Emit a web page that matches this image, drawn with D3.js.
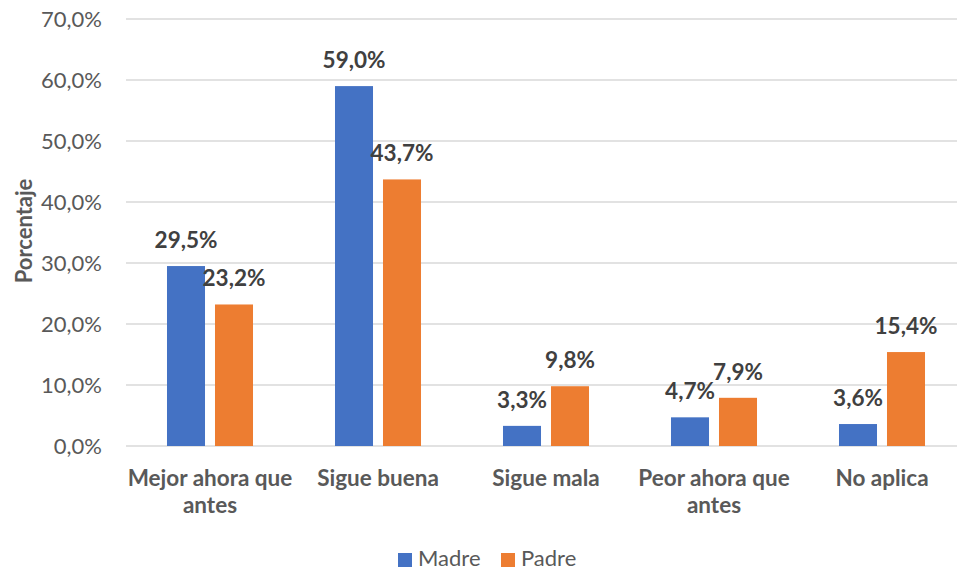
<!DOCTYPE html>
<html>
<head>
<meta charset="utf-8">
<script src="https://cdn.jsdelivr.net/npm/d3@7"></script>
<style>
  body { margin: 0; background: #fff; overflow: hidden; }
  text { font-family: Lato, "Open Sans", sans-serif; }
</style>
</head>
<body>
<div id="chart-container"></div>
<script>
const categories = [
  ["Mejor ahora que", "antes"],
  ["Sigue buena"],
  ["Sigue mala"],
  ["Peor ahora que", "antes"],
  ["No aplica"]
];
const seriesNames = ["Madre", "Padre"];
const madreValues = [29.5, 59.0, 3.3, 4.7, 3.6];
const padreValues = [23.2, 43.7, 9.8, 7.9, 15.4];
const yTicks = [0, 10, 20, 30, 40, 50, 60, 70];

const colors = ["#4472C4", "#ED7D31"];
const fmt = v => v.toFixed(1).replace(".", ",") + "%";

const W = 957, H = 571;
// the plot area runs a little past the right edge, as in the reference crop
const margin = { top: 19, right: -9, bottom: 125, left: 126 };
const width = W - margin.left - margin.right;
const height = H - margin.top - margin.bottom;

const data = categories.map((c, i) => ({
  key: i, label: c,
  values: [madreValues[i], padreValues[i]]
}));

const svg = d3.select("#chart-container")
  .append("svg")
    .attr("width", W)
    .attr("height", H)
    .style("overflow", "hidden");

const g = svg.append("g")
  .attr("transform", `translate(${margin.left},${margin.top})`);

const x0 = d3.scaleBand()
  .domain(data.map(d => d.key))
  .range([0, width])
  .paddingInner(0.488)
  .paddingOuter(0.244);

const x1 = d3.scaleBand()
  .domain([0, 1])
  .range([0, x0.bandwidth()])
  .paddingInner(0.208);

const y = d3.scaleLinear()
  .domain([0, 70])
  .range([height, 0]);

// gridlines
g.selectAll(".grid")
  .data(yTicks)
  .join("line")
  .attr("x1", 0)
  .attr("x2", width)
  .attr("y1", d => y(d))
  .attr("y2", d => y(d))
  .attr("stroke", "#D9D9D9")
  .attr("stroke-width", 1.3);

// y axis labels
g.append("g")
  .call(d3.axisLeft(y).tickValues(yTicks).tickSize(0).tickPadding(24).tickFormat(fmt))
  .call(ax => ax.select(".domain").remove())
  .selectAll(".tick text")
  .style("font-family", "Lato, 'Open Sans', sans-serif")
  .style("font-size", "22px")
  .attr("fill", "#595959");

// bars
const groups = g.selectAll(".cat")
  .data(data)
  .join("g")
  .attr("transform", d => `translate(${x0(d.key)},0)`);

groups.selectAll("rect")
  .data(d => d.values.map((v, i) => ({ i, v })))
  .join("rect")
  .attr("x", d => x1(d.i))
  .attr("width", x1.bandwidth())
  .attr("y", d => y(d.v))
  .attr("height", d => y(0) - y(d.v))
  .attr("fill", d => colors[d.i]);

groups.selectAll(".val")
  .data(d => d.values.map((v, i) => ({ i, v })))
  .join("text")
  .attr("x", d => x1(d.i) + x1.bandwidth() / 2)
  .attr("y", d => y(d.v) - 18)
  .attr("text-anchor", "middle")
  .style("font-size", "22.5px")
  .style("font-weight", "bold")
  .attr("fill", "#404040")
  .text(d => fmt(d.v));

// category labels
const catLabels = g.selectAll(".catlabel")
  .data(data)
  .join("text")
  .attr("text-anchor", "middle")
  .attr("x", d => x0(d.key) + x0.bandwidth() / 2)
  .attr("y", height + 40)
  .style("font-size", "22.5px")
  .style("font-weight", "bold")
  .attr("fill", "#595959");

catLabels.selectAll("tspan")
  .data(d => d.label)
  .join("tspan")
  .attr("x", function () { return d3.select(this.parentNode).attr("x"); })
  .attr("dy", (d, i) => i === 0 ? 0 : 27)
  .text(d => d);

// y axis title
svg.append("text")
  .attr("transform", `translate(32,231) rotate(-90)`)
  .attr("text-anchor", "middle")
  .style("font-size", "22px")
  .style("font-weight", "bold")
  .attr("fill", "#595959")
  .text("Porcentaje");

// legend
const legend = svg.append("g")
  .attr("transform", "translate(398,553)");

const legendX = [0, 103];
seriesNames.forEach((name, i) => {
  legend.append("rect")
    .attr("x", legendX[i])
    .attr("y", 0)
    .attr("width", 14)
    .attr("height", 14)
    .attr("fill", colors[i]);
  legend.append("text")
    .attr("x", legendX[i] + 20)
    .attr("y", 13)
    .style("font-size", "22px")
    .attr("fill", "#595959")
    .text(name);
});
</script>
</body>
</html>
